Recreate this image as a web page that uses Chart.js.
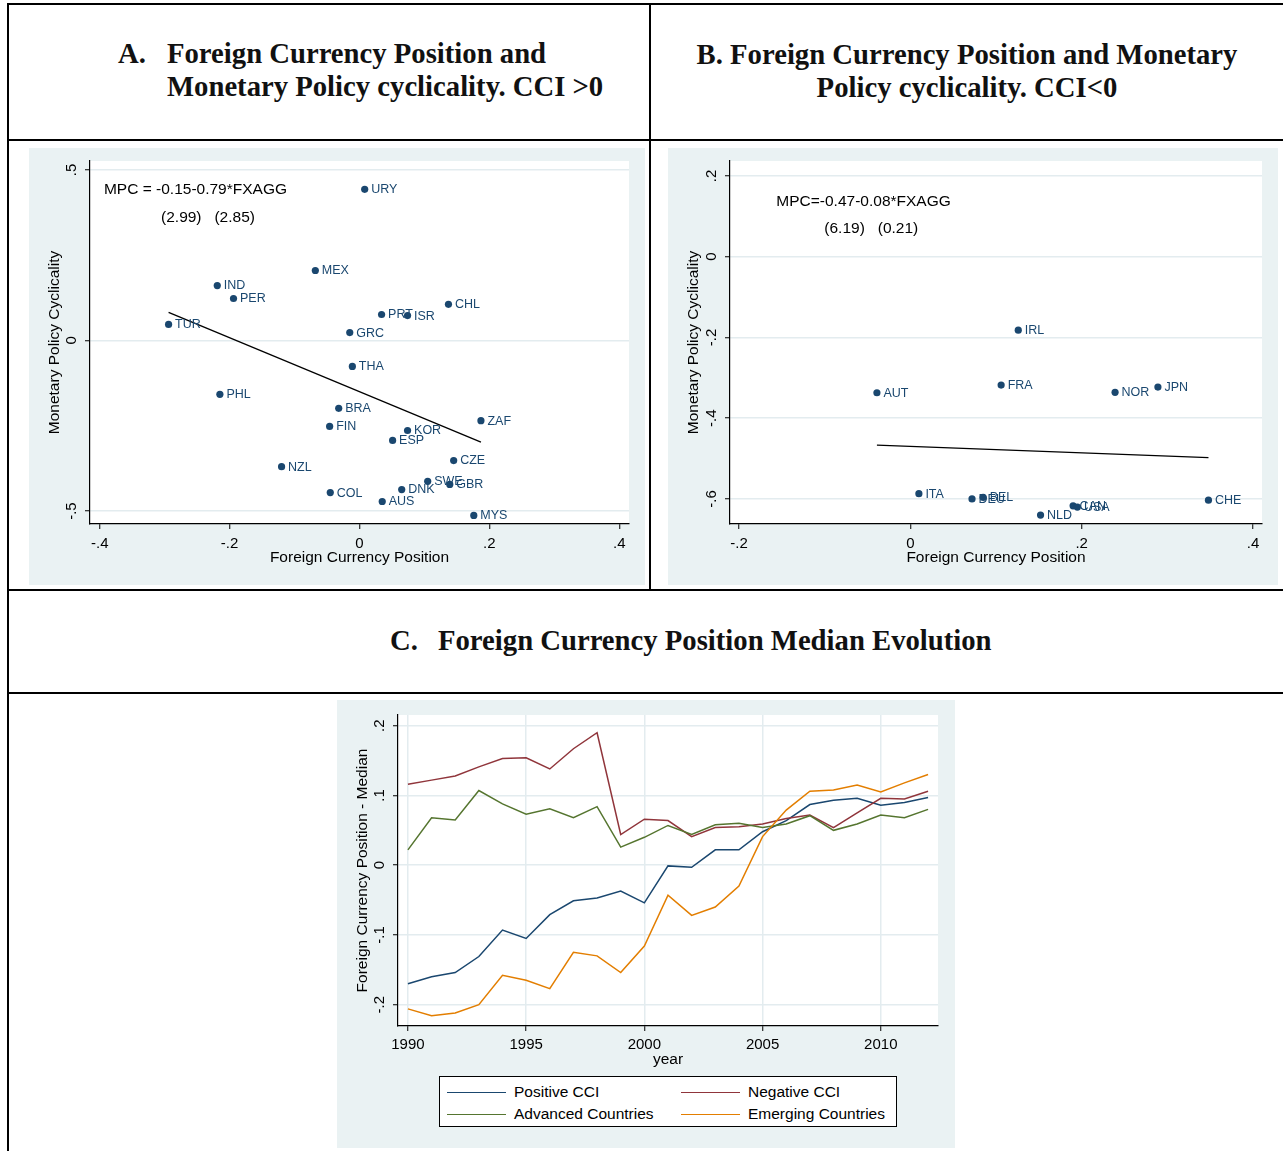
<!DOCTYPE html>
<html>
<head>
<meta charset="utf-8">
<script src="https://cdn.jsdelivr.net/npm/chart.js@4.4.1/dist/chart.umd.min.js"></script>
<style>
  body { margin: 0; width: 1283px; height: 1151px; overflow: hidden; position: relative; background: #fff;
         font-family: "Liberation Sans", Arial, Helvetica, sans-serif; }
  .rule { position: absolute; background: #000; }
  .title { position: absolute; font-family: "Liberation Serif", "Times New Roman", serif; font-weight: bold;
           font-size: 28.7px; line-height: 33px; color: #111; white-space: nowrap; }
  .panel { position: absolute; background: #eaf2f3; }
  .panel canvas { display: block; }
  .legend { position: absolute; box-sizing: border-box; background: #fff; border: 1px solid #000; }
  .legend .item { position: absolute; height: 22px; line-height: 22px; font-size: 15.5px; color: #000; white-space: nowrap; }
  .legend .swatch { display: inline-block; width: 59px; height: 0; border-top: 1.5px solid; vertical-align: middle; margin-right: 8px; }
</style>
</head>
<body>

<!-- table frame -->
<div class="rule" style="left:7px; top:3px; width:1290px; height:2px"></div>
<div class="rule" style="left:7px; top:3px; width:2px; height:1160px"></div>
<div class="rule" style="left:649px; top:3px; width:2px; height:588px"></div>
<div class="rule" style="left:7px; top:139px; width:1290px; height:2px"></div>
<div class="rule" style="left:7px; top:589px; width:1290px; height:2px"></div>
<div class="rule" style="left:7px; top:692px; width:1290px; height:2px"></div>

<div class="title" style="left:118px; top:37px">A.</div>
<div class="title" style="left:167px; top:37px">Foreign Currency Position and<br>Monetary Policy cyclicality. CCI &gt;0</div>
<div class="title" style="left:651px; top:38px; width:632px; text-align:center">B. Foreign Currency Position and Monetary<br>Policy cyclicality. CCI&lt;0</div>
<div class="title" style="left:390px; top:624px">C.</div>
<div class="title" style="left:438px; top:624px">Foreign Currency Position Median Evolution</div>

<div class="panel" style="left:29px; top:148px; width:616px; height:437px"><canvas id="chartA" width="616" height="437"></canvas></div>
<div class="panel" style="left:668px; top:148px; width:610px; height:437px"><canvas id="chartB" width="610" height="437"></canvas></div>
<div class="panel" style="left:337px; top:700px; width:618px; height:448px">
  <canvas id="chartC" width="618" height="448"></canvas>
  <div class="legend" id="legendC" style="left:102px; top:376px; width:458px; height:51px"></div>
</div>

<script>
// ---- Panel A: CCI > 0 ----
const countriesA = ['URY','MEX','IND','PER','TUR','CHL','PRT','ISR','GRC','THA','PHL','BRA',
                    'FIN','ZAF','KOR','ESP','CZE','NZL','SWE','GBR','DNK','COL','AUS','MYS'];
const fxA  = [0.008,-0.068,-0.219,-0.194,-0.294,0.137,0.034,0.074,-0.015,-0.011,-0.215,-0.032,
              -0.046,0.187,0.074,0.051,0.145,-0.120,0.105,0.139,0.065,-0.045,0.035,0.176];
const mpcA = [0.443,0.205,0.161,0.123,0.047,0.106,0.076,0.073,0.023,-0.076,-0.158,-0.199,
              -0.252,-0.235,-0.264,-0.293,-0.352,-0.370,-0.413,-0.422,-0.437,-0.446,-0.472,-0.513];
const fitA = { intercept: -0.15, slope: -0.79 };
const xTicksA = [-0.4, -0.2, 0, 0.2, 0.4];
const xTickLabelsA = ['-.4', '-.2', '0', '.2', '.4'];
const yTicksA = [-0.5, 0, 0.5];
const yTickLabelsA = ['-.5', '0', '.5'];

// ---- Panel B: CCI < 0 ----
const countriesB = ['IRL','AUT','FRA','NOR','JPN','ITA','DEU','BEL','NLD','CAN','USA','CHE'];
const fxB  = [0.126,-0.039,0.106,0.239,0.289,0.010,0.072,0.085,0.152,0.190,0.195,0.348];
const mpcB = [-0.182,-0.337,-0.318,-0.336,-0.323,-0.587,-0.600,-0.596,-0.640,-0.617,-0.620,-0.603];
const fitB = { intercept: -0.47, slope: -0.08 };
const xTicksB = [-0.2, 0, 0.2, 0.4];
const xTickLabelsB = ['-.2', '0', '.2', '.4'];
const yTicksB = [-0.6, -0.4, -0.2, 0, 0.2];
const yTickLabelsB = ['-.6', '-.4', '-.2', '0', '.2'];

// ---- Panel C: median foreign currency position by year ----
const years = [1990,1991,1992,1993,1994,1995,1996,1997,1998,1999,2000,2001,
               2002,2003,2004,2005,2006,2007,2008,2009,2010,2011,2012];
const positiveCCI = [-0.170,-0.160,-0.154,-0.131,-0.093,-0.105,-0.071,-0.051,-0.047,-0.037,-0.054,-0.001,
                     -0.003,0.022,0.022,0.048,0.064,0.087,0.093,0.096,0.086,0.090,0.097];
const negativeCCI = [0.116,0.122,0.128,0.141,0.153,0.154,0.138,0.167,0.190,0.044,0.066,0.064,
                     0.041,0.054,0.055,0.059,0.067,0.072,0.054,0.075,0.096,0.095,0.106];
const advanced    = [0.022,0.068,0.065,0.107,0.088,0.073,0.081,0.068,0.084,0.026,0.040,0.057,
                     0.044,0.058,0.060,0.054,0.059,0.071,0.050,0.059,0.072,0.068,0.080];
const emerging    = [-0.206,-0.216,-0.212,-0.200,-0.158,-0.165,-0.177,-0.125,-0.130,-0.154,-0.116,-0.043,
                     -0.072,-0.060,-0.030,0.041,0.079,0.106,0.108,0.115,0.105,0.118,0.130];
const seriesNames  = ['Positive CCI', 'Negative CCI', 'Advanced Countries', 'Emerging Countries'];
const seriesColors = ['#1a476f', '#90353b', '#55752f', '#e37e00'];
const xTicksC = [1990, 1995, 2000, 2005, 2010];
const yTicksC = [-0.2, -0.1, 0, 0.1, 0.2];
const yTickLabelsC = ['-.2', '-.1', '0', '.1', '.2'];

const FONT = '"Liberation Sans", Arial, Helvetica, sans-serif';
const NAVY = '#1a476f';
const GRID = '#e3ecef';
Chart.defaults.font.family = FONT;
Chart.defaults.color = '#000';

// white plot region, vertical y tick labels, marker labels and regression notes
function stataLook(cfg) {
  return {
    id: 'stataLook',
    beforeDraw(chart) {
      const { ctx, chartArea: a } = chart;
      ctx.save();
      ctx.fillStyle = '#fff';
      ctx.fillRect(a.left, a.top, a.right - a.left, a.bottom - a.top);
      ctx.restore();
    },
    afterDraw(chart) {
      const { ctx, chartArea: a, scales } = chart;
      ctx.save();
      ctx.fillStyle = '#000';
      ctx.font = '15px ' + FONT;
      ctx.textAlign = 'center';
      ctx.textBaseline = 'middle';
      scales.y.ticks.forEach((t, i) => {
        ctx.save();
        ctx.translate(a.left - 18, scales.y.getPixelForValue(t.value));
        ctx.rotate(-Math.PI / 2);
        ctx.fillText(cfg.yLabels[i], 0, 0);
        ctx.restore();
      });
      ctx.textAlign = 'left';
      if (cfg.names) {
        ctx.font = '12.5px ' + FONT;
        ctx.fillStyle = NAVY;
        chart.getDatasetMeta(0).data.forEach((pt, i) => {
          ctx.fillText(cfg.names[i], pt.x + 6.5, pt.y + 0.5);
        });
      }
      if (cfg.notes) {
        ctx.font = '15.5px ' + FONT;
        ctx.fillStyle = '#000';
        cfg.notes.forEach(n => {
          ctx.fillText(n.text, scales.x.getPixelForValue(n.x), scales.y.getPixelForValue(n.y));
        });
      }
      ctx.restore();
    }
  };
}

function fixedTicks(values) {
  return scale => { scale.ticks = values.map(v => ({ value: v })); };
}

function axisX(min, max, ticks, labels, title, gridOn, pad) {
  return {
    type: 'linear', min, max,
    afterBuildTicks: fixedTicks(ticks),
    afterFit: s => { s.height = 60; },
    ticks: { font: { size: 15 }, padding: pad, maxRotation: 0, callback: (v, i) => labels ? labels[i] : String(v) },
    grid: { drawOnChartArea: gridOn, color: GRID, lineWidth: 1.5, tickColor: '#000', tickLength: 5, tickWidth: 1 },
    border: { display: true, color: '#000', width: 1.2 },
    title: { display: true, text: title, font: { size: 15.5 }, padding: { top: 0, bottom: 16.7 } }
  };
}

function axisY(min, max, ticks, title, width) {
  return {
    type: 'linear', min, max,
    afterBuildTicks: fixedTicks(ticks),
    afterFit: s => { s.width = width; },
    ticks: { display: false },
    grid: { color: GRID, lineWidth: 1.5, tickColor: '#000', tickLength: 5, tickWidth: 1 },
    border: { display: true, color: '#000', width: 1.2 },
    title: { display: true, text: title, font: { size: 15.5 }, padding: { top: 16.7, bottom: 0 } }
  };
}

function scatterPanel(id, names, fx, mpc, fit, opts) {
  const pts = fx.map((x, i) => ({ x, y: mpc[i] }));
  const lo = Math.min(...fx), hi = Math.max(...fx);
  const line = [lo, hi].map(x => ({ x, y: fit.intercept + fit.slope * x }));
  return new Chart(document.getElementById(id), {
    type: 'scatter',
    data: {
      datasets: [
        { data: pts, backgroundColor: NAVY, borderColor: NAVY, pointRadius: 3.6, pointHoverRadius: 3.6, borderWidth: 0 },
        { data: line, showLine: true, borderColor: '#000', borderWidth: 1.3, pointRadius: 0, fill: false }
      ]
    },
    options: {
      responsive: false,
      animation: false,
      layout: { padding: opts.padding },
      plugins: { legend: { display: false }, tooltip: { enabled: false } },
      scales: {
        x: axisX(opts.xMin, opts.xMax, opts.xTicks, opts.xLabels, 'Foreign Currency Position', false, 6),
        y: axisY(opts.yMin, opts.yMax, opts.yTicks, 'Monetary Policy Cyclicality', opts.yWidth)
      }
    },
    plugins: [stataLook({ yLabels: opts.yLabels, names, notes: opts.notes })]
  });
}

scatterPanel('chartA', countriesA, fxA, mpcA, fitA, {
  padding: { left: 0, top: 13, right: 16, bottom: 1 },
  xMin: -0.415, xMax: 0.415, xTicks: xTicksA, xLabels: xTickLabelsA,
  yMin: -0.538, yMax: 0.526, yTicks: yTicksA, yLabels: yTickLabelsA, yWidth: 61,
  notes: [
    { text: 'MPC = -0.15-0.79*FXAGG', x: -0.3935, y: 0.443 },
    { text: '(2.99)   (2.85)', x: -0.3056, y: 0.361 }
  ]
});

scatterPanel('chartB', countriesB, fxB, mpcB, fitB, {
  padding: { left: 0, top: 13, right: 16, bottom: 1 },
  xMin: -0.2105, xMax: 0.4105, xTicks: xTicksB, xLabels: xTickLabelsB,
  yMin: -0.662, yMax: 0.237, yTicks: yTicksB, yLabels: yTickLabelsB, yWidth: 62,
  notes: [
    { text: 'MPC=-0.47-0.08*FXAGG', x: -0.1564, y: 0.136 },
    { text: '(6.19)   (0.21)', x: -0.1004, y: 0.069 }
  ]
});

// Panel C: four median lines over time
const seriesC = [positiveCCI, negativeCCI, advanced, emerging];
new Chart(document.getElementById('chartC'), {
  type: 'line',
  data: {
    datasets: seriesC.map((vals, k) => ({
      label: seriesNames[k],
      data: years.map((yr, i) => ({ x: yr, y: vals[i] })),
      borderColor: seriesColors[k],
      borderWidth: 1.5,
      pointRadius: 0,
      tension: 0,
      fill: false,
      order: seriesC.length - k
    }))
  },
  options: {
    responsive: false,
    animation: false,
    layout: { padding: { left: 0, top: 15, right: 17, bottom: 62 } },
    plugins: { legend: { display: false }, tooltip: { enabled: false } },
    scales: {
      x: axisX(1989.58, 2012.42, xTicksC, null, 'year', true, 5),
      y: axisY(-0.2306, 0.2154, yTicksC, 'Foreign Currency Position - Median', 61)
    }
  },
  plugins: [stataLook({ yLabels: yTickLabelsC })]
});

// legend box, two columns
const legend = document.getElementById('legendC');
seriesNames.forEach((name, k) => {
  const item = document.createElement('div');
  item.className = 'item';
  item.style.left = (7 + (k % 2) * 234) + 'px';
  item.style.top = (4 + Math.floor(k / 2) * 22) + 'px';
  const sw = document.createElement('span');
  sw.className = 'swatch';
  sw.style.borderTopColor = seriesColors[k];
  item.appendChild(sw);
  item.appendChild(document.createTextNode(name));
  legend.appendChild(item);
});
</script>
</body>
</html>
